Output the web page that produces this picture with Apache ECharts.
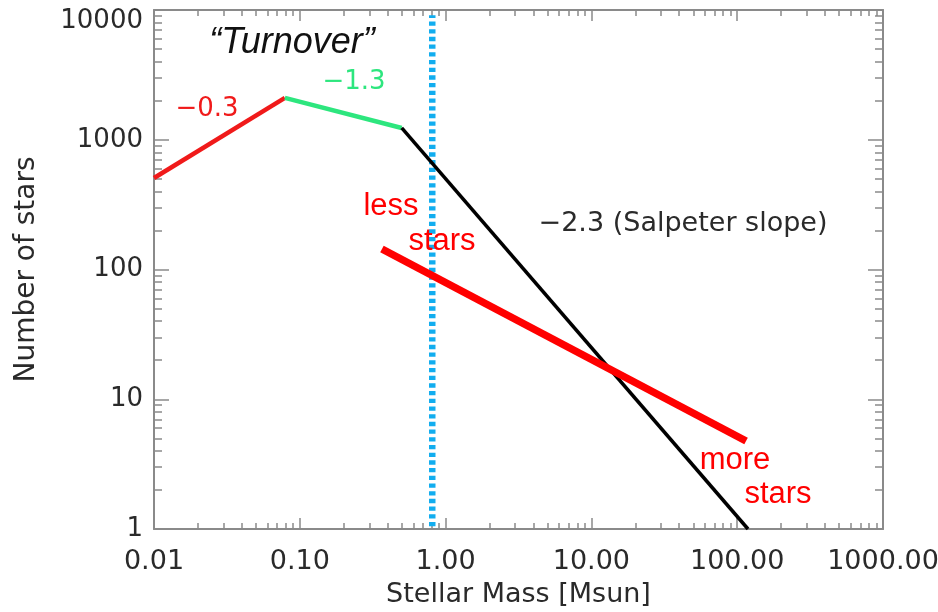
<!DOCTYPE html>
<html><head><meta charset="utf-8">
<script src="https://cdn.jsdelivr.net/npm/echarts@6/dist/echarts.min.js"></script>
<style>html,body{margin:0;padding:0;background:#fff}#c{width:938px;height:612px}</style>
</head><body><div id="c"></div>
<script>
// ---- data ----
const xTickLabels = ['0.01', '0.10', '1.00', '10.00', '100.00', '1000.00'];
const yTickLabels = ['1', '10', '100', '1000', '10000'];
const lowMassSegment = [[0.01, 507], [0.079, 2100]];      // slope -0.3
const turnoverSegment = [[0.079, 2100], [0.50, 1233]];    // slope -1.3
const salpeterSegment = [[0.50, 1233], [118.6, 1]];       // slope -2.3
const boundaryLine = [[0.81, 1.05], [0.81, 9100]];        // dotted blue
const flatterSlope = [[0.366, 144], [115, 4.77]];         // thick red
const minorMultipliers = [2, 3, 4, 5, 6, 7, 8, 9];
const xDecades = [0.01, 0.1, 1, 10, 100];
const yDecades = [1, 10, 100, 1000];

// ---- helpers for tick decoration axes (log10 space) ----
function minorPositions(decades) {
  const out = [];
  decades.forEach(d => minorMultipliers.forEach(m => out.push(Math.log10(d * m))));
  return out;
}
const AX = '#8a8a8a';
const TXT = '#2a2a2a';
const FONT = 'DejaVu Sans';

function logX(pos, showLabel) {
  return {
    type: 'log', logBase: 10, min: 0.01, max: 1000, position: pos,
    axisLine: { show: true, onZero: false, lineStyle: { color: AX, width: 2 } },
    axisTick: { show: true, inside: true, length: 11, lineStyle: { color: AX, width: 1.5 } },
    splitLine: { show: false },
    axisLabel: {
      show: showLabel, color: TXT, fontFamily: FONT, fontSize: 27, margin: 19,
      formatter: (v, i) => xTickLabels[i]
    },
    name: showLabel ? 'Stellar Mass [Msun]' : '',
    nameLocation: 'middle', nameGap: 52,
    nameTextStyle: { color: TXT, fontFamily: FONT, fontSize: 27 }
  };
}
function minorX(pos) {
  return {
    type: 'value', min: -2, max: 3, position: pos,
    axisLine: { show: false, onZero: false },
    axisTick: { show: true, inside: true, length: 6, customValues: minorPositions(xDecades),
      lineStyle: { color: AX, width: 1.5 } },
    axisLabel: { show: false }, splitLine: { show: false }
  };
}
function logY(pos, showLabel) {
  return {
    type: 'log', logBase: 10, min: 1, max: 10000, position: pos,
    axisLine: { show: true, onZero: false, lineStyle: { color: AX, width: 2 } },
    axisTick: { show: true, inside: true, length: 15, lineStyle: { color: AX, width: 1.5 } },
    splitLine: { show: false },
    axisLabel: {
      show: showLabel, color: TXT, fontFamily: FONT, fontSize: 26, margin: 11,
      formatter: (v, i) => (i === yTickLabels.length - 1 ? '{top|' + yTickLabels[i] + '}' : yTickLabels[i]),
      rich: { top: { color: TXT, fontFamily: FONT, fontSize: 26, padding: [22, 0, 0, 0] } }
    },
    name: showLabel ? 'Number of stars' : '',
    nameLocation: 'middle', nameGap: 113, nameRotate: 90,
    nameTextStyle: { color: TXT, fontFamily: FONT, fontSize: 28 }
  };
}
function minorY(pos) {
  return {
    type: 'value', min: 0, max: 4, position: pos,
    axisLine: { show: false, onZero: false },
    axisTick: { show: true, inside: true, length: 8, customValues: minorPositions(yDecades),
      lineStyle: { color: AX, width: 1.5 } },
    axisLabel: { show: false }, splitLine: { show: false }
  };
}

function seg(name, data, color, width, z, type) {
  return {
    name, type: 'line', data, xAxisIndex: 0, yAxisIndex: 0, symbol: 'none',
    silent: true, z,
    lineStyle: { color, width, type: type || 'solid', cap: 'butt' }
  };
}

const chart = echarts.init(document.getElementById('c'), null, { renderer: 'canvas' });
chart.setOption({
  animation: false,
  backgroundColor: '#ffffff',
  grid: { left: 154, right: 55, top: 10, bottom: 83, containLabel: false, outerBoundsMode: 'none' },
  xAxis: [logX('bottom', true), minorX('bottom'), logX('top', false), minorX('top')],
  yAxis: [logY('left', true), minorY('left'), logY('right', false), minorY('right')],
  series: [
    seg('boundary', boundaryLine, '#12ADEF', 6.5, 2, [4.3, 3.4]),
    seg('low', lowMassSegment, '#F01A1A', 4.5, 3),
    seg('turnover', turnoverSegment, '#2DE67E', 4.5, 3),
    seg('salpeter', salpeterSegment, '#000000', 3.5, 3),
    seg('flatter', flatterSlope, '#FF0000', 7.5, 4)
  ],
  graphic: [
    { type: 'text', x: 292, y: 43, z: 10, style: { text: '\u201CTurnover\u201D', fill: '#111',
      font: 'italic 36px "Liberation Sans"', align: 'center', verticalAlign: 'middle' } },
    { type: 'text', x: 207, y: 109, z: 10, style: { text: '\u22120.3', fill: '#F01A1A',
      font: '26px "DejaVu Sans"', align: 'center', verticalAlign: 'middle' } },
    { type: 'text', x: 354, y: 82, z: 10, style: { text: '\u22121.3', fill: '#2DE67E',
      font: '26px "DejaVu Sans"', align: 'center', verticalAlign: 'middle' } },
    { type: 'text', x: 683, y: 224, z: 10, style: { text: '\u22122.3 (Salpeter slope)', fill: '#2a2a2a',
      font: '27px "DejaVu Sans"', align: 'center', verticalAlign: 'middle' } },
    { type: 'text', x: 391, y: 206, z: 10, style: { text: 'less', fill: '#FF0000',
      font: '31px "Liberation Sans"', align: 'center', verticalAlign: 'middle' } },
    { type: 'text', x: 442, y: 241, z: 10, style: { text: 'stars', fill: '#FF0000',
      font: '31px "Liberation Sans"', align: 'center', verticalAlign: 'middle' } },
    { type: 'text', x: 735, y: 460, z: 10, style: { text: 'more', fill: '#FF0000',
      font: '31px "Liberation Sans"', align: 'center', verticalAlign: 'middle' } },
    { type: 'text', x: 778, y: 494, z: 10, style: { text: 'stars', fill: '#FF0000',
      font: '31px "Liberation Sans"', align: 'center', verticalAlign: 'middle' } }
  ]
});
</script>
</body></html>
